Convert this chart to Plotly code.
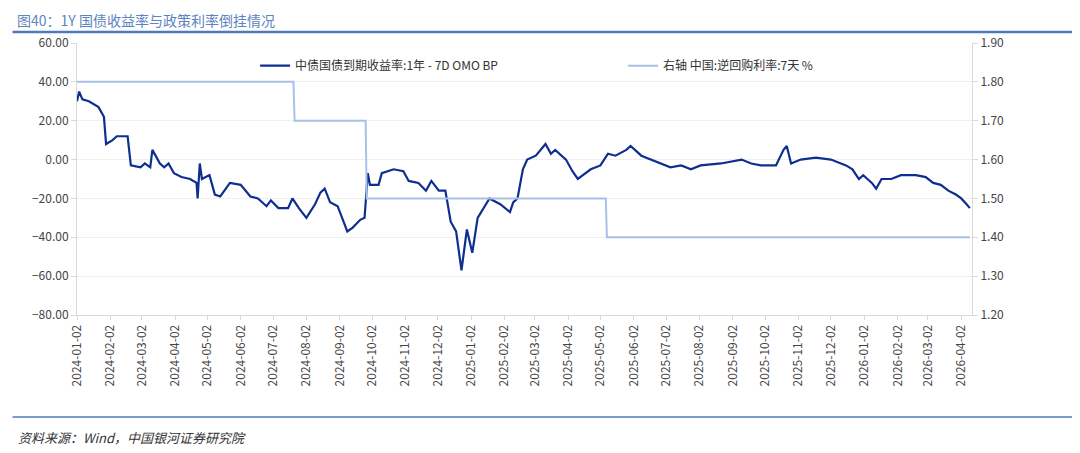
import plotly.graph_objects as go

dates = ["2024-01-02","2024-01-04","2024-01-07","2024-01-13","2024-01-22","2024-01-27","2024-01-29","2024-02-04","2024-02-08","2024-02-18","2024-02-21","2024-03-01","2024-03-05","2024-03-10","2024-03-12","2024-03-19","2024-03-23","2024-03-27","2024-04-01","2024-04-08","2024-04-16","2024-04-22","2024-04-23","2024-04-25","2024-04-27","2024-05-04","2024-05-09","2024-05-14","2024-05-23","2024-06-02","2024-06-11","2024-06-18","2024-06-26","2024-06-30","2024-07-07","2024-07-16","2024-07-20","2024-07-26","2024-08-02","2024-08-10","2024-08-15","2024-08-19","2024-08-24","2024-08-31","2024-09-09","2024-09-14","2024-09-21","2024-09-25","2024-09-28","2024-09-30","2024-10-08","2024-10-11","2024-10-22","2024-10-31","2024-11-05","2024-11-14","2024-11-21","2024-11-26","2024-12-03","2024-12-09","2024-12-14","2024-12-19","2024-12-24","2024-12-29","2025-01-03","2025-01-08","2025-01-19","2025-01-29","2025-02-07","2025-02-10","2025-02-14","2025-02-19","2025-02-23","2025-03-03","2025-03-12","2025-03-17","2025-03-21","2025-03-31","2025-04-06","2025-04-11","2025-04-23","2025-05-02","2025-05-09","2025-05-16","2025-05-26","2025-05-30","2025-06-09","2025-06-18","2025-06-27","2025-07-06","2025-07-16","2025-07-25","2025-08-03","2025-08-22","2025-09-10","2025-09-19","2025-09-28","2025-10-12","2025-10-19","2025-10-22","2025-10-26","2025-11-04","2025-11-18","2025-12-02","2025-12-16","2025-12-22","2025-12-28","2026-01-01","2026-01-09","2026-01-13","2026-01-18","2026-01-27","2026-02-05","2026-02-19","2026-02-28","2026-03-07","2026-03-14","2026-03-21","2026-03-28","2026-04-02","2026-04-07","2026-04-10"]
spread = [30,35,31,30,27,22,8,10,12,12,-3,-4,-2,-4,5,-2,-4,-2,-7,-9,-10,-12,-20,-2,-10,-8,-18,-19,-12,-13,-19,-20,-24,-21,-25,-25,-20,-25,-30,-23,-17,-15,-22,-24,-37,-35,-31,-30,-7,-13,-13,-7,-5,-6,-11,-12,-16,-11,-16,-16,-32,-37,-57,-36,-48,-30,-20,-23,-27,-22,-20,-5,0,2,8,3,5,0,-6,-10,-5,-3,3,2,5,7,2,0,-2,-4,-3,-5,-3,-2,0,-2,-3,-3,5,7,-2,0,1,0,-3,-5,-10,-8,-12,-15,-10,-10,-8,-8,-9,-12,-13,-16,-18,-20,-23,-25]

omo_dates = ["2024-01-02","2024-07-21","2024-07-22","2024-09-26","2024-09-27","2025-05-07","2025-05-08","2026-04-10"]
omo_rate = [1.80,1.80,1.70,1.70,1.50,1.50,1.40,1.40]

tick_vals = ["2024-%02d-02" % m for m in range(1,13)] + ["2025-%02d-02" % m for m in range(1,13)] + ["2026-%02d-02" % m for m in range(1,5)]

fig = go.Figure()
fig.add_trace(go.Scatter(x=dates, y=spread, mode="lines", line=dict(color="#0e2f8f", width=2.2),
                         name="中债国债到期收益率:1年 - 7D OMO BP"))
fig.add_trace(go.Scatter(x=omo_dates, y=omo_rate, mode="lines", line=dict(color="#a7c0e8", width=2),
                         name="右轴 中国:逆回购利率:7天 %", yaxis="y2"))

font = "Noto Sans CJK SC"
fig.update_layout(
    width=1080, height=453, paper_bgcolor="white", plot_bgcolor="white",
    margin=dict(l=69, r=116, t=35, b=146),
    font=dict(family=font, size=12, color="#333"),
    showlegend=True,
    legend=dict(orientation="h", x=0.199, xanchor="left", y=0.97, yanchor="top",
                font=dict(size=12, color="#333"), bgcolor="rgba(0,0,0,0)", entrywidth=323),
    xaxis=dict(type="date", range=["2024-01-02","2026-04-12"], tickvals=tick_vals, ticktext=tick_vals,
               tickangle=-90, showgrid=False, showline=True, linecolor="#d9d9d9",
               ticks="outside", tickcolor="#d9d9d9", ticklen=4, tickfont=dict(size=12, color="#444")),
    yaxis=dict(range=[-80,60], dtick=20, tickformat=".2f", showgrid=True, gridcolor="#efefef",
               showline=True, linecolor="#d9d9d9", ticks="outside", tickcolor="#d9d9d9",
               zeroline=False, tickfont=dict(size=12, color="#444")),
    yaxis2=dict(range=[1.2,1.9], dtick=0.1, tickformat=".2f", overlaying="y", side="right",
                showgrid=False, showline=True, linecolor="#d9d9d9", ticks="outside",
                tickcolor="#d9d9d9", zeroline=False, tickfont=dict(size=12, color="#444")),
)
fig.add_annotation(xref="paper", yref="paper", x=-0.068, y=1.126, xanchor="left", yanchor="top",
                   text="图40：1Y 国债收益率与政策利率倒挂情况", showarrow=False, borderpad=0,
                   font=dict(family=font, size=14, color="#5b83c2"))
fig.add_shape(type="line", xref="paper", yref="paper", x0=-0.072, x1=1.12, y0=1.04, y1=1.04,
              line=dict(color="#4f79bd", width=2.5))
fig.add_shape(type="line", xref="paper", yref="paper", x0=-0.072, x1=1.12, y0=-0.375, y1=-0.375,
              line=dict(color="#4f79bd", width=1.5))
fig.add_annotation(xref="paper", yref="paper", x=-0.068, y=-0.45, xanchor="left", yanchor="middle",
                   text="<i>资料来源：Wind，中国银河证券研究院</i>", showarrow=False,
                   font=dict(family=font, size=13, color="#333"))
fig.write_html("out.html")
